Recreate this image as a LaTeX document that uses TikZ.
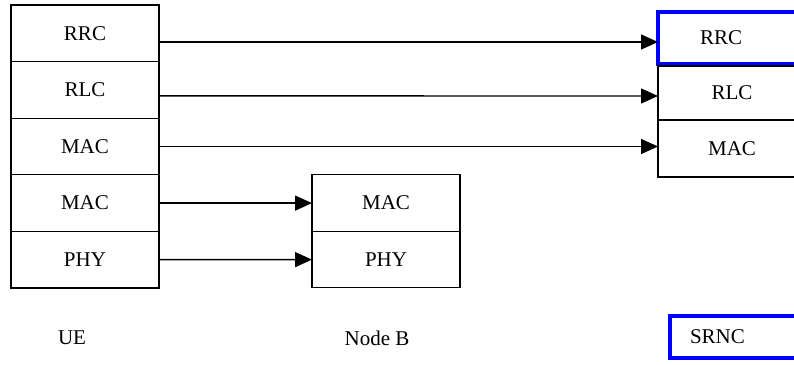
\documentclass[tikz,border=0pt]{standalone}
\usepackage{fontspec}
\setmainfont{Liberation Serif}
\usepackage{tikz}
\usetikzlibrary{arrows.meta, positioning}

\begin{document}
\begin{tikzpicture}[
    x=1pt, y=1pt,
    layer/.style={draw, line width=1.2pt, minimum width=148pt, minimum height=56.6pt, inner sep=0pt, outer sep=0pt, font=\fontsize{21}{24}\selectfont},
    serving/.style={draw=blue, line width=3.5pt},
    label/.style={font=\fontsize{21}{24}\selectfont},
    arrow/.style={-{Triangle[length=17pt, width=15pt]}, line width=1.4pt}
]
    \useasboundingbox (0,0) rectangle (794,364);
    \clip (0,0) rectangle (794,364);

    % UE stack
    \node[layer] (ue-rrc) at (85, 330.7) {RRC};
    \node[layer, below=0pt of ue-rrc] (ue-rlc) {RLC};
    \node[layer, below=0pt of ue-rlc] (ue-mac1) {MAC};
    \node[layer, below=0pt of ue-mac1] (ue-mac2) {MAC};
    \node[layer, below=0pt of ue-mac2] (ue-phy) {PHY};

    % Node B stack
    \node[layer, minimum height=56.5pt, right=153pt of ue-mac2] (nb-mac) {MAC};
    \node[layer, minimum height=56.5pt, below=0pt of nb-mac] (nb-phy) {PHY};

    % SRNC stack
    \node[layer, serving, minimum height=52pt, text width=64pt, align=left, inner xsep=42pt] (rnc-rrc) at (732, 326) {RRC};
    \node[layer, minimum height=54pt, below=2pt of rnc-rrc] (rnc-rlc) {RLC};
    \node[layer, minimum height=57pt, below=0pt of rnc-rlc] (rnc-mac) {MAC};

    \draw[arrow] ([yshift=-8.7pt]ue-rrc.east) -- ([yshift=-4pt]rnc-rrc.west);
    \draw[arrow] ([yshift=-6pt]ue-rlc.east) -- ([yshift=-3pt]rnc-rlc.west);
    \draw[arrow] (ue-mac1.east) -- (ue-mac1.east -| rnc-mac.west);
    \draw[arrow] (ue-mac2) -- (nb-mac);
    \draw[arrow] (ue-phy) -- (nb-phy);

    \node[label] (ue-name) at (72, 26) {UE};
    \node[label] (nb-name) at (377, 26) {Node B};
    \node[layer, serving, minimum height=42pt, text width=110pt, align=left, inner xsep=20pt] (srnc) at (745, 27) {SRNC};
\end{tikzpicture}
\end{document}
